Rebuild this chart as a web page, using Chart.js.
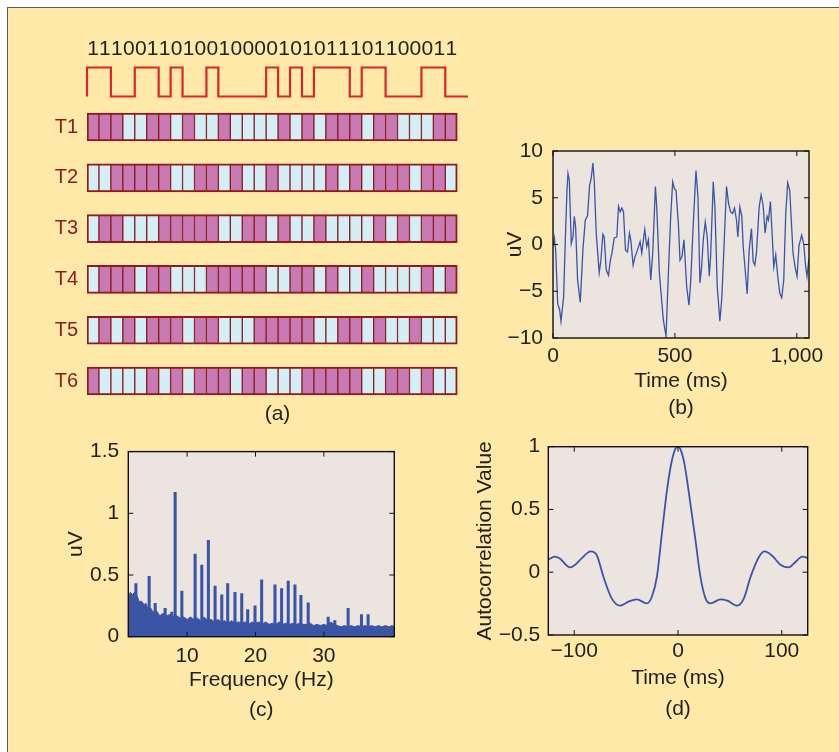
<!DOCTYPE html>
<html>
<head>
<meta charset="utf-8">
<script src="https://cdn.jsdelivr.net/npm/chart.js@4.4.1/dist/chart.umd.min.js"></script>
<style>
  body { margin: 0; background: #fff; width: 839px; height: 752px; overflow: hidden; }
  #fig { position: absolute; left: 7px; top: 7px; width: 832px; height: 745px; background: #FFE9A8;
         border-top: 1.5px solid #5a5a5a; border-left: 1.5px solid #5a5a5a; box-sizing: border-box; }
  canvas { position: absolute; }
</style>
</head>
<body>
<div id="fig"></div>
<canvas id="chartA" width="470" height="422" style="left:8px;top:8px"></canvas>
<canvas id="chartB" width="359" height="310" style="left:480px;top:120px"></canvas>
<canvas id="chartC" width="400" height="322" style="left:20px;top:430px"></canvas>
<canvas id="chartD" width="399" height="327" style="left:440px;top:425px"></canvas>
<script>
// (a) stimulus code and the six shifted target codes
var stimBits = '1110011010010000101011101100011'.split('');
var targets = ['T1', 'T2', 'T3', 'T4', 'T5', 'T6'];
var codes = [
  '1110011010010000101011101100011',
  '0011111001101001000010101110110',
  '0110001111100110100100001010111',
  '0111011000111110011010010000101',
  '0101011101100011111001101001000',
  '1000010101110110001111100110100'
];

// (b) raw EEG, 1 s epoch
var eegTime = [0, 5.5, 10.9, 19.1, 27.3, 32.7, 43.6, 50.5, 57.3, 61.4, 66.8, 75, 81.8, 87.3, 92.7, 100.9, 111.8,
  122.7, 132.3, 141.8, 150, 156.8, 163.6, 169.1, 177.3, 189.5, 196.4, 204.5, 210, 218.2, 227.7, 234.5, 242.7,
  250.9, 261.8, 268.6, 275.5, 282.3, 289.1, 297.3, 305.5, 313.6, 319.1, 328.6, 336.8, 346.4, 357.3, 364.1,
  370.9, 376.4, 384.5, 391.4, 400.9, 409.1, 420, 425.5, 436.4, 452.7, 463.6, 473.2, 482.7, 490.9, 497.7,
  504.5, 514.1, 520.9, 529.1, 537.3, 548.2, 557.7, 564.5, 575.5, 586.4, 594.5, 602.7, 609.5, 616.4, 624.5,
  632.7, 640.9, 646.4, 657.3, 664.1, 673.6, 684.5, 692.7, 703.6, 711.8, 720, 728.2, 736.4, 744.5, 752.7,
  758.2, 766.4, 774.5, 780, 788.2, 796.4, 804.5, 814.1, 820.9, 827.7, 834.5, 845.5, 853.6, 861.8, 870,
  878.2, 883.6, 891.8, 897.3, 905.5, 913.6, 921.8, 930, 938.2, 946.4, 954.5, 962.7, 970.9, 984.5, 992.7,
  1000.9, 1009.1, 1020, 1028.2, 1036.4, 1041.8, 1050];
var eegValue = [-0.2, 0.7, -0.6, -6.3, -7, -8.2, -5.6, 0.5, 5.8, 7.6, 6.9, 0.1, 0.8, 3, 1.9, -3.8, -6.2,
  -0.6, 2.6, 3.1, 6.3, 7.1, 8.7, 6.9, 1.2, -3, -1.7, 1.1, 0.8, -2.7, -3.3, -1.8, -0.8,
  0.7, 0.8, 4.1, 3.5, 3.9, 3.5, -0.6, -0.8, 1.2, 0.5, -2.2, -1.3, -0.6, 0.3, -0.9,
  0.5, 1.6, -0.2, 0.5, -3.8, -0.9, 6.2, 4, -3.1, -8.1, -9.8, -3.1, 3, 6.7, 6,
  5.8, 2.3, -1.7, -1.3, 0.5, -4.5, -6.5, -4.1, 2.3, 7.9, 5.1, -4.1, -2.4, 0.5, 2.4,
  0.8, -3.4, -1.3, 6.7, 4, -4.5, -8.2, -5.6, 1.2, 6.2, 4.4, 3.5, 3.3, 3.9, 2.6,
  0.8, 4, 3, -0.2, -2.7, -5.3, -0.6, 1.7, -1.8, -2.2, -0.9, 4, 5.3, 4.2, 1.2,
  3, 2.6, 4.6, 1.9, -2.4, -1.1, -3.4, -5.2, -5.7, -3.8, 3.3, 6.6, 5.8, -0.9, -2.4,
  -3.4, -0.1, 1, 0.1, -2.4, -3.4, -1.5];

// (c) amplitude spectrum: noise floor envelope and spectral peaks
var noiseFreq = [1.4, 1.7, 2, 2.3, 2.7, 3, 3.3, 3.7, 4, 4.3, 4.7, 5, 5.5, 6, 6.5, 7, 7.5, 8, 8.5, 9, 9.5,
  10, 10.5, 11, 11.5, 12, 12.5, 13, 13.5, 14, 14.5, 15, 15.5, 16, 16.5, 17, 17.5, 18, 18.5, 19, 19.5,
  20, 20.5, 21, 21.5, 22, 22.5, 23, 23.5, 24, 24.5, 25, 25.5, 26, 26.5, 27, 27.5, 28, 28.5, 29, 29.5,
  30, 30.5, 31, 31.5, 32, 32.5, 33, 33.5, 34, 34.5, 35, 35.5, 36, 36.5, 37, 37.5, 38, 38.5, 39, 39.5, 40, 40.3];
var noiseAmp = [0.33, 0.36, 0.34, 0.36, 0.33, 0.28, 0.29, 0.26, 0.27, 0.22, 0.23, 0.2, 0.21, 0.17, 0.19, 0.17, 0.18, 0.16, 0.17, 0.15, 0.16,
  0.14, 0.16, 0.14, 0.15, 0.13, 0.16, 0.13, 0.14, 0.12, 0.14, 0.12, 0.13, 0.11, 0.13, 0.11, 0.12, 0.11, 0.12, 0.1, 0.12,
  0.11, 0.12, 0.1, 0.12, 0.1, 0.11, 0.1, 0.12, 0.1, 0.11, 0.1, 0.11, 0.1, 0.11, 0.1, 0.1, 0.11, 0.09, 0.1, 0.09,
  0.1, 0.09, 0.12, 0.1, 0.09, 0.08, 0.09, 0.08, 0.09, 0.08, 0.09, 0.08, 0.09, 0.08, 0.09, 0.08, 0.09, 0.08, 0.09, 0.08, 0.09, 0.08];
var peakFreq = [2.51, 4.45, 5.33, 6.79, 7.77, 8.25, 9.23, 11.17, 12.15, 13.11, 14.09, 15.07, 15.94, 17, 17.99,
  18.86, 19.93, 20.9, 22.85, 23.82, 24.79, 25.77, 26.64, 27.71, 30.63, 31.6, 33.55, 35.5, 36.47];
var peakAmp = [0.43, 0.49, 0.27, 0.23, 0.2, 1.17, 0.37, 0.67, 0.58, 0.78, 0.41, 0.34, 0.43, 0.36, 0.35,
  0.22, 0.25, 0.46, 0.42, 0.39, 0.45, 0.42, 0.335, 0.275, 0.16, 0.13, 0.23, 0.18, 0.18];

// (d) autocorrelation of the code response
var lagMs = [-125.2, -118.7, -113.9, -104.2, -99.4, -92.9, -84.2, -78.4, -71.9, -63.9, -55.8, -47.7, -39.7, -30,
  -25.2, -20.3, -15.5, -10.6, -5.8, -1.6, 0, 2.3, 6.1, 11.9, 16.8, 21.6, 26.5, 31.3, 41, 47.4, 57.1, 63.5,
  70, 78.1, 83.5, 91, 99, 107.1, 111.9, 120, 125.8];
var acValue = [0.1, 0.124, 0.11, 0.039, 0.058, 0.11, 0.166, 0.137, -0.035, -0.208, -0.266, -0.234, -0.216, -0.248,
  -0.195, -0.035, 0.31, 0.655, 0.894, 0.995, 1, 0.98, 0.867, 0.549, 0.257, -0.035, -0.208, -0.248, -0.216, -0.226, -0.266, -0.208,
  -0.035, 0.124, 0.166, 0.129, 0.058, 0.039, 0.071, 0.124, 0.11];

// tick values
var bTicksX = [0, 500, 1000], bTicksY = [-10, -5, 0, 5, 10];
var cTicksX = [10, 20, 30], cTicksY = [0, 0.5, 1, 1.5];
var dTicksX = [-100, 0, 100], dTicksY = [-0.5, 0, 0.5, 1];

var PURPLE = '#C77AB3', LIGHT = '#D4EEF6', DARKRED = '#8C1A1E', RED = '#D9262B';
var BLUE = '#3B55A6', PLOT_BG = '#EBE4DF', INK = '#231F20';

Chart.defaults.font.family = '"Liberation Sans", Arial, Helvetica, sans-serif';
Chart.defaults.font.size = 21;
Chart.defaults.color = INK;
Chart.defaults.animation = false;
Chart.defaults.responsive = false;
Chart.defaults.plugins.legend.display = false;
Chart.defaults.plugins.tooltip.enabled = false;

function fmt(v) {
  var s = Math.abs(v) >= 1000 ? v.toLocaleString('en-US') : String(v);
  return s.replace('-', '\u2212');
}
function fixedTicks(vals) {
  return function (axis) { axis.ticks = vals.map(function (v) { return { value: v }; }); };
}

// gray plot area, black box and inward ticks
var boxPlugin = {
  id: 'matlabBox',
  beforeDatasetsDraw: function (chart) {
    var a = chart.chartArea, ctx = chart.ctx;
    ctx.save();
    ctx.fillStyle = PLOT_BG;
    ctx.fillRect(a.left, a.top, a.right - a.left, a.bottom - a.top);
    ctx.restore();
  },
  afterDatasetsDraw: function (chart) {
    var a = chart.chartArea, ctx = chart.ctx, sx = chart.scales.x, sy = chart.scales.y;
    ctx.save();
    ctx.strokeStyle = '#111';
    ctx.lineWidth = 1;
    ctx.beginPath();
    sx.ticks.forEach(function (t) {
      var p = sx.getPixelForValue(t.value);
      ctx.moveTo(p, a.bottom); ctx.lineTo(p, a.bottom - 5);
      ctx.moveTo(p, a.top); ctx.lineTo(p, a.top + 5);
    });
    sy.ticks.forEach(function (t) {
      var p = sy.getPixelForValue(t.value);
      ctx.moveTo(a.left, p); ctx.lineTo(a.left + 5, p);
      ctx.moveTo(a.right, p); ctx.lineTo(a.right - 5, p);
    });
    ctx.stroke();
    ctx.lineWidth = 1.4;
    ctx.strokeRect(a.left, a.top, a.right - a.left, a.bottom - a.top);
    ctx.restore();
  }
};

function panelScales(o) {
  return {
    x: {
      type: 'linear', min: o.xmin, max: o.xmax, offset: false,
      grid: { display: false, drawTicks: false }, border: { display: false },
      afterBuildTicks: fixedTicks(o.xticks),
      ticks: { padding: o.xpad, maxRotation: 0, autoSkip: false, callback: fmt },
      title: { display: true, text: o.xtitle, font: { size: 21, lineHeight: o.titleLH },
               padding: { top: 0, bottom: o.titlePB } },
      afterFit: function (s) { s.height = o.xh; }
    },
    y: {
      type: 'linear', min: o.ymin, max: o.ymax,
      grid: { display: false, drawTicks: false }, border: { display: false },
      afterBuildTicks: fixedTicks(o.yticks),
      ticks: { padding: o.ypad, autoSkip: false, callback: fmt },
      title: { display: true, text: o.ytitle, padding: { top: o.ytitlePT, bottom: 0 } },
      afterFit: function (s) { s.width = o.yw; }
    }
  };
}

// ---------- (a) ----------
var rowHalf = 0.2756, waveHigh = -1.171, waveLow = -0.6;
var wave = [{ x: 0, y: waveLow }];
stimBits.forEach(function (b, i) { wave.push({ x: i, y: b === '1' ? waveHigh : waveLow }); });
wave.push({ x: stimBits.length, y: waveLow }, { x: 31.9, y: waveLow });

var dsA = codes.map(function (code, k) {
  var bits = code.split('');
  return {
    type: 'bar',
    data: bits.map(function (b, i) { return { x: i + 0.5, y: [k - rowHalf, k + rowHalf] }; }),
    backgroundColor: bits.map(function (b) { return b === '1' ? PURPLE : LIGHT; }),
    borderColor: DARKRED,
    borderWidth: function (c) {
      return { top: 2, bottom: 2, left: c.dataIndex === 0 ? 2 : 1, right: c.dataIndex === bits.length - 1 ? 2 : 1 };
    },
    borderSkipped: false,
    grouped: false,
    barPercentage: 1,
    categoryPercentage: 1,
    xAxisID: 'x', yAxisID: 'y'
  };
});
dsA.push({
  type: 'line', data: wave, stepped: 'after', borderColor: RED, borderWidth: 2.2,
  pointRadius: 0, fill: false, xAxisID: 'x', yAxisID: 'y', clip: false
});

new Chart(document.getElementById('chartA'), {
  type: 'bar',
  data: { datasets: dsA },
  options: {
    layout: { padding: { top: 0, right: 10, bottom: 0, left: 0 } },
    scales: {
      x: {
        type: 'linear', position: 'top', min: 0, max: 31.9, offset: false,
        grid: { display: false, drawTicks: false }, border: { display: false },
        afterBuildTicks: fixedTicks(stimBits.map(function (b, i) { return i + 0.5; })),
        ticks: { padding: 2, maxRotation: 0, autoSkip: false, color: INK,
                 callback: function (v, i) { return stimBits[i]; } },
        afterFit: function (s) { s.height = 55.5; }
      },
      x2: {
        type: 'linear', position: 'bottom', min: 0, max: 31.9, offset: false,
        grid: { display: false, drawTicks: false }, border: { display: false },
        ticks: { display: false },
        title: { display: true, text: '(a)', padding: { top: 0, bottom: 3 } },
        afterFit: function (s) { s.height = 31.2; }
      },
      y: {
        type: 'linear', reverse: true, min: -1.25, max: 5.35,
        grid: { display: false, drawTicks: false }, border: { display: false },
        afterBuildTicks: fixedTicks(targets.map(function (t, k) { return k; })),
        ticks: { padding: 9, autoSkip: false, color: DARKRED, font: { size: 20 },
                 callback: function (v, i) { return targets[i]; } },
        afterFit: function (s) { s.width = 79; }
      }
    }
  }
});

// ---------- (b) ----------
new Chart(document.getElementById('chartB'), {
  type: 'line',
  data: {
    datasets: [{
      data: eegTime.map(function (t, i) { return { x: t, y: eegValue[i] }; }),
      borderColor: BLUE, borderWidth: 1.3, pointRadius: 0, tension: 0, fill: false
    }]
  },
  options: {
    layout: { padding: { top: 31, right: 30, bottom: 0, left: 0 } },
    scales: panelScales({
      xmin: 0, xmax: 1050, xticks: bTicksX, xpad: 6, xtitle: ['Time (ms)', '(b)'], titleLH: 27 / 21, titlePB: 8, xh: 92,
      ymin: -10, ymax: 10, yticks: bTicksY, ypad: 10, ytitle: 'uV', ytitlePT: 22.4, yw: 73
    })
  },
  plugins: [boxPlugin]
});

// ---------- (c) ----------
new Chart(document.getElementById('chartC'), {
  type: 'line',
  data: {
    datasets: [{
      type: 'bar',
      data: peakFreq.map(function (f, i) { return { x: f, y: peakAmp[i] }; }),
      backgroundColor: BLUE, borderWidth: 0, barThickness: 2.4
    }, {
      type: 'line',
      data: noiseFreq.map(function (f, i) { return { x: f, y: noiseAmp[i] }; }),
      borderColor: BLUE, backgroundColor: BLUE, borderWidth: 1, pointRadius: 0, tension: 0, fill: 'origin'
    }]
  },
  options: {
    layout: { padding: { top: 19.3, right: 25.7, bottom: 0, left: 0 } },
    scales: panelScales({
      xmin: 1.4, xmax: 40.3, xticks: cTicksX, xpad: 7.4, xtitle: ['Frequency (Hz)', '(c)'], titleLH: 29.5 / 21, titlePB: 27.2, xh: 115.3,
      ymin: 0, ymax: 1.5, yticks: cTicksY, ypad: 9, ytitle: 'uV', ytitlePT: 44, yw: 108.3
    })
  },
  plugins: [boxPlugin]
});

// ---------- (d) ----------
new Chart(document.getElementById('chartD'), {
  type: 'line',
  data: {
    datasets: [{
      data: lagMs.map(function (t, i) { return { x: t, y: acValue[i] }; }),
      borderColor: BLUE, borderWidth: 1.8, pointRadius: 0, cubicInterpolationMode: 'monotone', fill: false
    }]
  },
  options: {
    layout: { padding: { top: 21.7, right: 31.3, bottom: 0, left: 0 } },
    scales: panelScales({
      xmin: -125, xmax: 125, xticks: dTicksX, xpad: 4, xtitle: ['Time (ms)', '(d)'], titleLH: 31.4 / 21, titlePB: 26.6, xh: 117,
      ymin: -0.5, ymax: 1, yticks: dTicksY, ypad: 8, ytitle: 'Autocorrelation Value', ytitlePT: 32.4, yw: 108.3
    })
  },
  plugins: [boxPlugin]
});
</script>
</body>
</html>
